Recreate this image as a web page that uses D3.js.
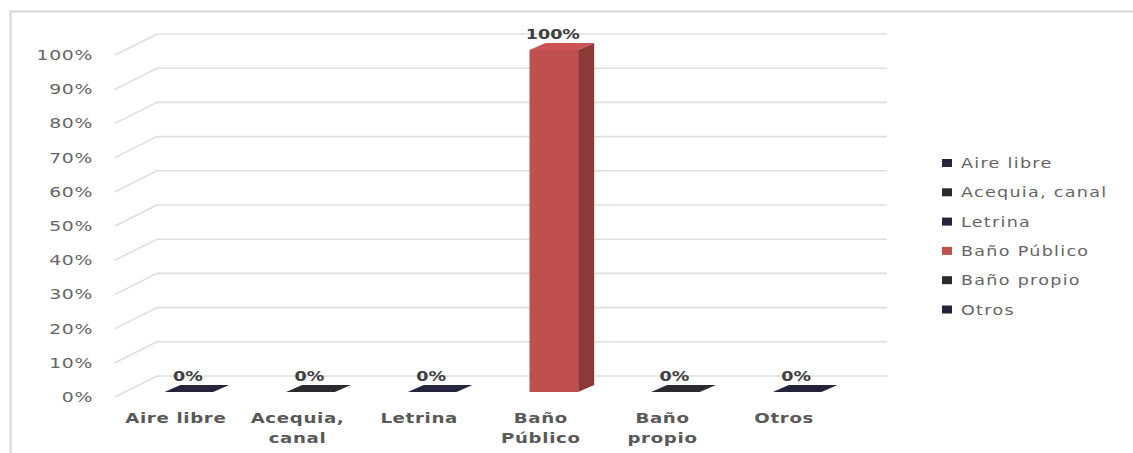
<!DOCTYPE html>
<html><head><meta charset="utf-8">
<script src="https://cdn.jsdelivr.net/npm/d3@7"></script>
<style>body{margin:0;background:#fff}svg{display:block}text{font-family:"DejaVu Sans",sans-serif}</style>
</head><body><svg id="c" width="1133" height="453"></svg>
<script>
const categories = ["Aire libre","Acequia, canal","Letrina","Baño Público","Baño propio","Otros"];
const values = [0,0,0,1,0,0];
const seriesColors = ["#25243a","#2b2b2f","#24243f","#c0504d","#2a2a33","#23233a"];
const yTicks = [0,0.1,0.2,0.3,0.4,0.5,0.6,0.7,0.8,0.9,1];

const svg = d3.select("#c");
const SX = 1.3;
const fmt = d3.format(".0%");

// frame
svg.append("path").attr("d","M10.5,453 V11.5 H1133").attr("fill","none").attr("stroke","#d6d6d6").attr("stroke-width",2);

const y = d3.scaleLinear().domain([0,1]).range([397,55]);
const x = d3.scaleBand().domain(categories).range([115,845]).paddingInner(0).paddingOuter(0);
const depth = {dx:42, dy:-21};
const barFront = {dx:13, dy:-5};
const barSide = {dx:16, dy:-7};
const barW = x.bandwidth()*0.4;

// gridlines
const g = svg.append("g");
yTicks.forEach(t=>{
  const yy = y(t);
  g.append("path").attr("d",`M${x.range()[0]},${yy} L${x.range()[0]+depth.dx},${yy+depth.dy} H${x.range()[1]+depth.dx}`)
   .attr("fill","none").attr("stroke","#dedede").attr("stroke-width",1.6);
});

// y axis labels
yTicks.forEach(t=>{
  svg.append("text").attr("transform",`translate(93,${y(t)+5}) scale(${SX},1)`)
    .attr("text-anchor","end").attr("font-size",14.5).attr("fill","#656565").attr("letter-spacing",0.5).text(fmt(t));
});

// bars
const bars = svg.append("g");
categories.forEach((c,i)=>{
  const v = values[i];
  const cx = x(c)+x.bandwidth()/2 + barFront.dx;
  const x0 = cx-barW/2, x1 = cx+barW/2;
  const yb = y(0)+barFront.dy, yt = y(v)+barFront.dy;
  const col = seriesColors[i];
  const dark = d3.color(col).darker(0.9);
  const light = d3.color(col).brighter(0.15);
  if (v>0){
    bars.append("rect").attr("x",x0).attr("y",yt).attr("width",x1-x0).attr("height",yb-yt).attr("fill",col);
    bars.append("path").attr("d",`M${x1},${yt} L${x1+barSide.dx},${yt+barSide.dy} L${x1+barSide.dx},${yb+barSide.dy} L${x1},${yb}Z`).attr("fill",dark);
  }
  bars.append("path").attr("d",`M${x0},${yt} L${x1},${yt} L${x1+barSide.dx},${yt+barSide.dy} L${x0+barSide.dx},${yt+barSide.dy}Z`).attr("fill", v>0?light:col);
  svg.append("text").attr("transform",`translate(${cx-1},${yt+barSide.dy-4}) scale(${SX},1)`)
    .attr("text-anchor","middle").attr("font-size",13.5).attr("font-weight","bold").attr("fill","#404040").text(fmt(v));
});

// category labels with wrapping
categories.forEach(c=>{
  const cx = x(c)+x.bandwidth()/2;
  const words = c.split(" ");
  const lines=[]; let cur="";
  const t = svg.append("text").attr("font-size",14).attr("font-weight","bold").attr("letter-spacing",0.5);
  words.forEach(w=>{
    const trial = cur?cur+" "+w:w;
    t.text(trial);
    if (cur && t.node().getComputedTextLength()*SX>115){lines.push(cur);cur=w;} else cur=trial;
  });
  lines.push(cur);
  t.remove();
  lines.forEach((l,k)=>{
    svg.append("text").attr("transform",`translate(${cx},${423+k*20}) scale(${SX},1)`)
      .attr("text-anchor","middle").attr("font-size",14).attr("font-weight","bold").attr("letter-spacing",0.5).attr("fill","#595959").text(l);
  });
});

// legend
const lg = svg.append("g");
categories.forEach((c,i)=>{
  const yy = 163 + i*29.3;
  lg.append("rect").attr("x",942).attr("y",yy-4).attr("width",10).attr("height",8).attr("fill",seriesColors[i]);
  lg.append("text").attr("transform",`translate(961,${yy+5}) scale(${SX},1)`)
    .attr("font-size",13.5).attr("fill","#656565").attr("letter-spacing",1).text(c);
});
</script></body></html>
